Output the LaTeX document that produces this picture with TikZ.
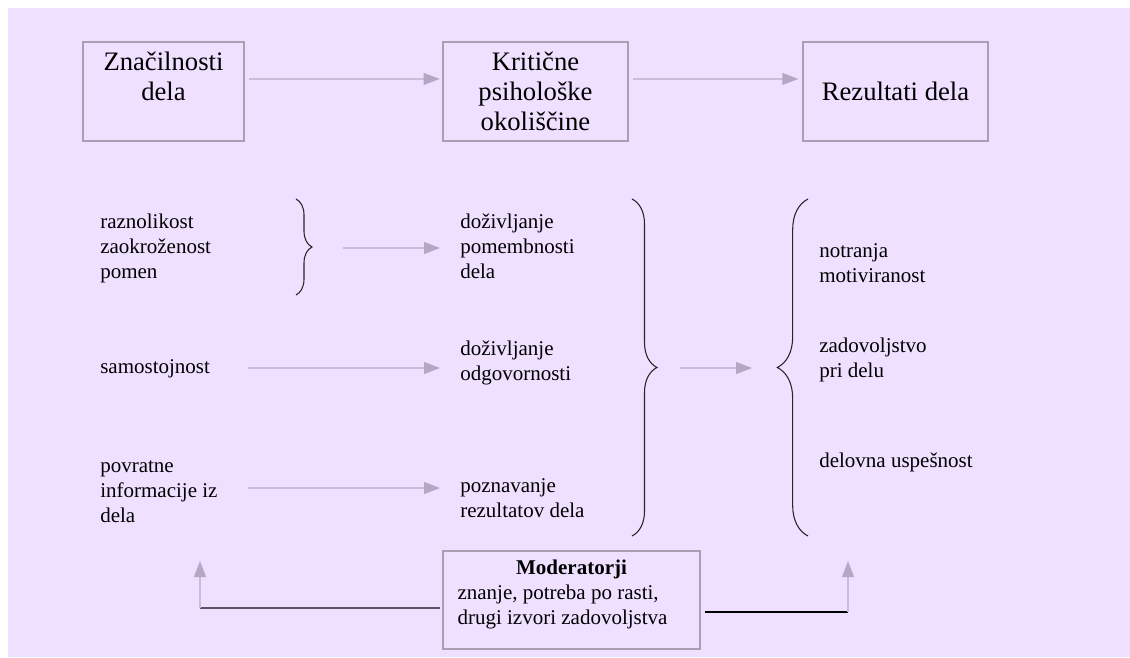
\documentclass[tikz,border=0pt]{standalone}
\usepackage{fontspec}
\setmainfont{Liberation Serif}
\usetikzlibrary{arrows.meta,decorations.pathreplacing}

\definecolor{bgviolet}{RGB}{239,224,255}
\definecolor{boxline}{RGB}{168,160,178}
\definecolor{arrline}{RGB}{200,190,215}
\definecolor{arrhead}{RGB}{178,168,196}
\definecolor{fbdark}{RGB}{90,84,100}
\newcommand{\bigtxt}{\fontsize{20}{22.5}\selectfont}
\newcommand{\smalltxt}{\fontsize{15.75}{18.5}\selectfont}

\tikzset{
  box/.style={draw=boxline,line width=1.1pt,align=center,font=\bigtxt,
    minimum width=138.75pt,minimum height=74.25pt,inner sep=0pt},
  txt/.style={anchor=base west,align=left,font=\smalltxt,inner sep=0pt},
  flow/.style={arrline,line width=0.8pt,
    -{Triangle[length=12pt,width=9pt,color=arrhead]}},
  fbline/.style={line width=1.1pt},
  curly/.style={line width=0.8pt,black!85,decorate,
    decoration={brace,amplitude=#1}}
}

\begin{document}
\begin{tikzpicture}[x=0.75pt,y=-0.75pt]
  \useasboundingbox (0,0) rectangle (1130,657);
  \fill[bgviolet] (8,8) rectangle (1130,657);

  % top row
  \node[box,minimum width=120.75pt] (znac) at (163.5,91.5) {Značilnosti\\dela\\\mbox{}};
  \node[box] (krit) at (535.5,91.5) {Kritične\\psihološke\\okoliščine};
  \node[box] (rez) at (895.5,91.5) {Rezultati dela};
  \draw[flow,shorten <=3pt,shorten >=2pt] ([yshift=9.4pt]znac.east) -- ([yshift=9.4pt]krit.west);
  \draw[flow,shorten <=3pt,shorten >=3pt] ([yshift=9.4pt]krit.east) -- ([yshift=9.4pt]rez.west);

  % characteristics (base = last line)
  \node[txt] (razn) at (100,278) {raznolikost\\zaokroženost\\pomen};
  \node[txt] (samo) at (100,373) {samostojnost};
  \node[txt] (povr) at (100,522) {povratne\\informacije iz\\dela};

  % psychological states
  \node[txt] (pomem) at (460,278) {doživljanje\\pomembnosti\\dela};
  \node[txt] (odgov) at (460,380) {doživljanje\\odgovornosti};
  \node[txt] (pozn) at (460,517) {poznavanje\\rezultatov dela};

  % outcomes
  \node[txt] (motiv) at (819,282) {notranja\\motiviranost};
  \node[txt] (zadov) at (819,377) {zadovoljstvo\\pri delu};
  \node[txt] (uspes) at (819,467) {delovna uspešnost};

  % braces
  \draw[curly=12pt] (296,199) -- (296,295);
  \draw[curly=18.75pt] (632,199) -- (632,536);
  \draw[curly=23pt] (808,536) -- (808,199);

  \coordinate (a1) at (343,248);  \coordinate (b1) at (440,248);
  \coordinate (a2) at (248,368);  \coordinate (b2) at (440,368);
  \coordinate (a3) at (248,488);  \coordinate (b3) at (440,488);
  \coordinate (a4) at (680,368);  \coordinate (b4) at (752,368);
  \draw[flow] (a1) -- (b1);
  \draw[flow] (a2) -- (b2);
  \draw[flow] (a3) -- (b3);
  \draw[flow] (a4) -- (b4);

  % moderators
  \node[draw=boxline,line width=1.1pt,minimum width=192.75pt,minimum height=73.5pt,
    inner sep=0pt,font=\smalltxt] (moder) at (571.5,600)
    {\begin{tabular}{@{}l@{\hspace{13.5pt}}}
      \multicolumn{1}{@{}c@{}}{\textbf{Moderatorji}}\\
      znanje, potreba po rasti,\\
      drugi izvori zadovoljstva\\[8pt]
    \end{tabular}};
  \coordinate (fbl) at (200,608);  \coordinate (tl) at (200,561);
  \coordinate (fbr) at (848,612);  \coordinate (tr) at (848,561);
  \draw[fbline,fbdark,shorten <=2pt] ([yshift=-6pt]moder.west) -- (fbl);
  \draw[fbline,black,shorten <=3pt] ([yshift=-9pt]moder.east) -- (fbr);
  \draw[flow] (fbl) -- (tl);
  \draw[flow] (fbr) -- (tr);
\end{tikzpicture}
\end{document}
